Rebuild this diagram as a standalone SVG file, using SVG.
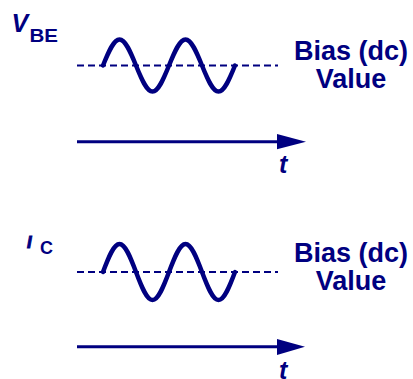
<svg xmlns="http://www.w3.org/2000/svg" width="413" height="379" viewBox="0 0 413 379">
<style>
.t{font-family:"Liberation Sans",Arial,sans-serif;font-weight:bold;fill:#000080}
.i{font-style:italic}
.dash{stroke:#000080;stroke-width:2;stroke-dasharray:7 4;fill:none}
.wave{stroke:#000080;stroke-width:4.5;fill:none;stroke-linecap:round}
.axis{stroke:#000080;stroke-width:3;fill:none}
.head{fill:#000080}
</style>
<rect width="413" height="379" fill="#fff"/>
<g id="vbe-panel">
  <text class="t i" x="11.5" y="31.5" font-size="25">V</text>
  <text class="t" x="29.5" y="42" font-size="18" textLength="28.5" lengthAdjust="spacingAndGlyphs">BE</text>
  <line class="dash" x1="77" y1="65.5" x2="278" y2="65.5"/>
  <path class="wave" d="M103,65.5 c5.52,-13.65 10.56,-26 16.5,-26 s10.98,12.35 16.5,26 s10.56,26 16.5,26 s10.98,-12.35 16.5,-26 s10.56,-26 16.5,-26 s10.98,12.35 16.5,26 s10.56,26 16.5,26 s10.98,-12.35 16.5,-26"/>
  <text class="t" x="351" y="60" font-size="27" text-anchor="middle">Bias (dc)</text>
  <text class="t" x="351" y="87.5" font-size="27" text-anchor="middle">Value</text>
</g>
<g id="ic-panel">
  <text class="t i" x="27" y="248.3" font-size="16.5" stroke="#000080" stroke-width="1">I</text>
  <text class="t" x="40" y="254" font-size="18">C</text>
  <line class="dash" x1="77" y1="272" x2="278" y2="272"/>
  <path class="wave" d="M103,272 c5.52,-14.7 10.56,-28 16.5,-28 s10.98,13.3 16.5,28 s10.56,28 16.5,28 s10.98,-13.3 16.5,-28 s10.56,-28 16.5,-28 s10.98,13.3 16.5,28 s10.56,28 16.5,28 s10.98,-13.3 16.5,-28"/>
  <text class="t" x="351" y="261.5" font-size="27" text-anchor="middle">Bias (dc)</text>
  <text class="t" x="351" y="290" font-size="27" text-anchor="middle">Value</text>
</g>
<g id="connectors">
  <line class="axis" x1="77" y1="141.7" x2="280" y2="141.7"/>
  <polygon class="head" points="277,134 306,141.7 277,149.3"/>
  <line class="axis" x1="77" y1="346.7" x2="280" y2="346.7"/>
  <polygon class="head" points="277,339 305,346.7 277,355"/>
</g>
<g id="t-labels">
  <text class="t i" x="279" y="173.3" font-size="25">t</text>
  <text class="t i" x="279" y="379" font-size="25">t</text>
</g>
</svg>
